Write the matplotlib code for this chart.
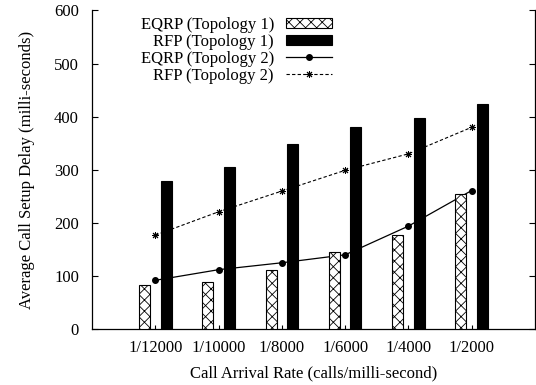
import matplotlib
matplotlib.use("Agg")
import matplotlib.pyplot as plt
import numpy as np

categories = ["1/12000", "1/10000", "1/8000", "1/6000", "1/4000", "1/2000"]
eqrp_t1 = [84, 88, 112, 145, 178, 254]
rfp_t1 = [278, 305, 348, 380, 398, 424]
eqrp_t2 = [92, 112, 125, 140, 194, 261]
rfp_t2 = [177, 221, 260, 299, 330, 380]

plt.rcParams['font.family'] = ['Liberation Serif', 'DejaVu Serif']
plt.rcParams['hatch.linewidth'] = 0.6
plt.rcParams['font.size'] = 12

fig = plt.figure(figsize=(5.36, 3.85), dpi=100)
ax = fig.add_axes([0.172, 0.145, 0.826, 0.828])

x = np.arange(1, len(categories) + 1)
w = 0.175
b1 = ax.bar(x - 0.17, eqrp_t1, width=w, color='white', edgecolor='black',
            hatch='xxx', linewidth=0.8, zorder=3, label='EQRP (Topology 1)')
b2 = ax.bar(x + 0.17, rfp_t1, width=w, color='black', edgecolor='black',
            linewidth=0.8, zorder=3, label='RFP (Topology 1)')
l1, = ax.plot(x, eqrp_t2, color='black', lw=0.9, marker='o', markersize=4,
              zorder=2, label='EQRP (Topology 2)')
l2, = ax.plot(x, rfp_t2, color='black', lw=0.8, linestyle=(0, (3, 2)),
              marker=(8, 2, 0), markersize=5, markeredgewidth=0.7,
              zorder=2, label='RFP (Topology 2)')

ax.set_xlim(0, 7)
ax.set_ylim(0, 600)
ax.set_xticks(x)
ax.set_xticklabels(categories)
ax.set_yticks(np.arange(0, 601, 100))
ax.spines['top'].set_visible(False)
for s in ['left', 'right', 'bottom']:
    ax.spines[s].set_linewidth(0.9)
ax.tick_params(axis='y', direction='in', length=4, left=True, right=True,
               labelsize=12, pad=9.5, width=0.8)
ax.tick_params(axis='x', direction='in', length=3, labelsize=12, pad=8,
               width=0.8)
ax.set_xlabel('Call Arrival Rate (calls/milli-second)', fontsize=12,
              labelpad=6.5)
ax.set_ylabel('Average Call Setup Delay (milli-seconds)', fontsize=12,
              labelpad=14)

ax.legend(handles=[b1, b2, l1, l2], loc='upper left',
          bbox_to_anchor=(0.079, 1.021), frameon=False,
          markerfirst=False, fontsize=12, handlelength=2.8,
          handleheight=0.55, labelspacing=0.05, handletextpad=0.7,
          borderpad=0.3)

fig.savefig('out.png', dpi=100)
